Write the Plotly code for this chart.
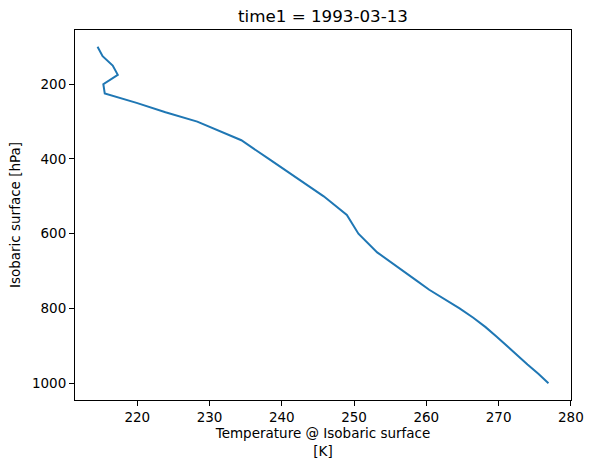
import numpy as np
import plotly.graph_objects as go

# NARR-style pressure levels (hPa) and temperature profile (K)
pressure = [100, 125, 150, 175, 200, 225, 250, 275, 300, 350, 400, 450, 500,
            550, 600, 650, 700, 725, 750, 775, 800, 825, 850, 875, 900, 925,
            950, 975, 1000]
temperature = [214.5, 215.2, 216.6, 217.3, 215.3, 215.5, 219.9, 223.9, 228.3,
               234.4, 238.2, 242.0, 245.8, 249.0, 250.6, 253.2, 256.9, 258.6,
               260.4, 262.5, 264.6, 266.5, 268.2, 269.7, 271.1, 272.6, 274.0,
               275.5, 276.9]

x_ticks = [220, 230, 240, 250, 260, 270, 280]
y_ticks = [200, 400, 600, 800, 1000]

# matplotlib-like 5% margins
def padded(vals, m=0.05):
    lo, hi = min(vals), max(vals)
    d = (hi - lo) * m
    return [lo - d, hi + d]

xr = padded(temperature)
yr = padded(pressure)

fig = go.Figure()
fig.add_trace(go.Scatter(x=temperature, y=pressure, mode="lines",
                         line=dict(color="#1f77b4", width=2)))

font = dict(family="DejaVu Sans", size=13.5, color="black")

W, H = 593, 469
fig.update_layout(
    width=W, height=H,
    margin=dict(l=75, r=22, t=30, b=69),
    plot_bgcolor="white", paper_bgcolor="white",
    font=font,
    showlegend=False,
    title=dict(text="time1 = 1993-03-13", x=(75 + W - 22) / 2 / W,
               xanchor="center", y=1 - 16.5 / H, yanchor="middle",
               font=dict(family="DejaVu Sans", size=16.7, color="black")),
)

fig.update_xaxes(range=xr, tickvals=x_ticks, ticks="outside", ticklen=5,
                 tickcolor="black", showline=True, linecolor="black",
                 linewidth=1, mirror=True, showgrid=False, zeroline=False,
                 automargin=False,
                 title=dict(text="Temperature @ Isobaric surface<br>[K]",
                            standoff=4, font=font))
fig.update_yaxes(range=[yr[1], yr[0]], tickvals=y_ticks, ticks="outside",
                 ticklen=5, tickcolor="black", showline=True,
                 linecolor="black", linewidth=1, mirror=True, showgrid=False,
                 zeroline=False, automargin=False,
                 title=dict(text="Isobaric surface [hPa]", standoff=8,
                            font=font))

# drop the browser's default 8px body margin so the figure fills the window
fig.write_html("out.html", config={"displayModeBar": False},
               post_script="document.body.style.margin='0';")
